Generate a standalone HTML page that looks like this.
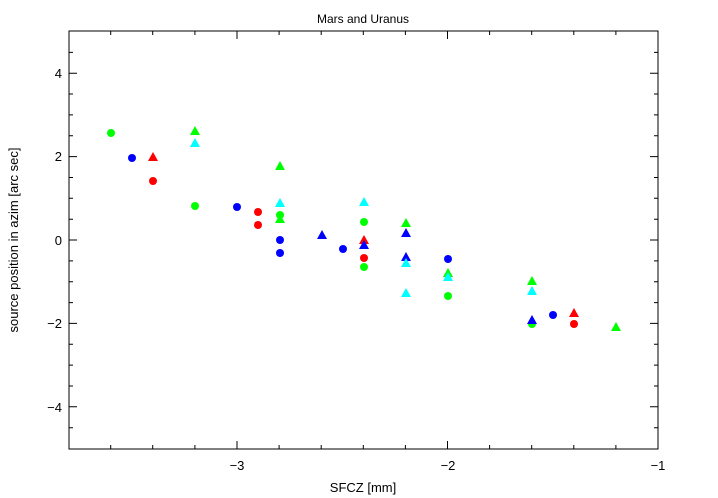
<!DOCTYPE html>
<html><head><style>body{margin:0;background:#fff}svg{display:block}</style></head><body>
<svg width="718" height="498" xmlns="http://www.w3.org/2000/svg" font-family="Liberation Sans, DejaVu Sans, sans-serif" font-size="13">
<rect width="718" height="498" fill="#fff"/>
<rect x="69" y="31" width="589" height="418" fill="none" stroke="#000" stroke-width="1"/>
<path stroke="#000" stroke-width="1" fill="none" d="
M110.7 449v-4M152.7 449v-4M194.9 449v-4M237 449v-8M279.1 449v-4M321.2 449v-4M363.3 449v-4M405.4 449v-4M447.5 449v-8M489.6 449v-4M531.7 449v-4M573.8 449v-4M615.9 449v-4
M110.7 31v4M152.7 31v4M194.9 31v4M237 31v8M279.1 31v4M321.2 31v4M363.3 31v4M405.4 31v4M447.5 31v8M489.6 31v4M531.7 31v4M573.8 31v4M615.9 31v4
M69 52.4h4M69 73.2h8M69 94h4M69 114.9h4M69 135.8h4M69 156.6h8M69 177.5h4M69 198.3h4M69 219.2h4M69 240h8M69 260.9h4M69 281.7h4M69 302.6h4M69 323.4h8M69 344.3h4M69 365.1h4M69 386h4M69 406.8h8M69 427.7h4
M658 52.4h-4M658 73.2h-8M658 94h-4M658 114.9h-4M658 135.8h-4M658 156.6h-8M658 177.5h-4M658 198.3h-4M658 219.2h-4M658 240h-8M658 260.9h-4M658 281.7h-4M658 302.6h-4M658 323.4h-8M658 344.3h-4M658 365.1h-4M658 386h-4M658 406.8h-8M658 427.7h-4"/>
<text x="363" y="23" text-anchor="middle" font-size="12">Mars and Uranus</text>
<text x="363" y="492" text-anchor="middle">SFCZ [mm]</text>
<text transform="translate(18,240) rotate(-90)" text-anchor="middle">source position in azim [arc sec]</text>
<g text-anchor="middle">
<text x="237" y="470">−3</text><text x="448" y="470">−2</text><text x="658" y="470">−1</text>
</g>
<g text-anchor="end">
<text x="62" y="78">4</text><text x="62" y="161">2</text><text x="62" y="245">0</text><text x="62" y="328">−2</text><text x="62" y="412">−4</text>
</g>
<g>
<circle cx="111" cy="133" r="4" fill="#00ff00"/>
<circle cx="132" cy="158" r="4" fill="#0000ff"/>
<circle cx="153" cy="181" r="4" fill="#ff0000"/>
<circle cx="195" cy="206" r="4" fill="#00ff00"/>
<circle cx="237" cy="207" r="4" fill="#0000ff"/>
<circle cx="258" cy="212" r="4" fill="#ff0000"/>
<circle cx="258" cy="225" r="4" fill="#ff0000"/>
<circle cx="280" cy="215" r="4" fill="#00ff00"/>
<circle cx="280" cy="240" r="4" fill="#0000ff"/>
<circle cx="280" cy="253" r="4" fill="#0000ff"/>
<circle cx="343" cy="249" r="4" fill="#0000ff"/>
<circle cx="364" cy="222" r="4" fill="#00ff00"/>
<circle cx="364" cy="258" r="4" fill="#ff0000"/>
<circle cx="364" cy="267" r="4" fill="#00ff00"/>
<circle cx="448" cy="259" r="4" fill="#0000ff"/>
<circle cx="448" cy="296" r="4" fill="#00ff00"/>
<circle cx="532" cy="324" r="4" fill="#00ff00"/>
<circle cx="553" cy="315" r="4" fill="#0000ff"/>
<circle cx="574" cy="324" r="4" fill="#ff0000"/>
<polygon points="148,161 158,161 153,152" fill="#ff0000"/>
<polygon points="190,135 200,135 195,126" fill="#00ff00"/>
<polygon points="190,147 200,147 195,138" fill="#00ffff"/>
<polygon points="275,170 285,170 280,161" fill="#00ff00"/>
<polygon points="275,207 285,207 280,198" fill="#00ffff"/>
<polygon points="275,223 285,223 280,214" fill="#00ff00"/>
<polygon points="317,239 327,239 322,230" fill="#0000ff"/>
<polygon points="359,206 369,206 364,197" fill="#00ffff"/>
<polygon points="359,244 369,244 364,235" fill="#ff0000"/>
<polygon points="359,249 369,249 364,240" fill="#0000ff"/>
<polygon points="401,227 411,227 406,218" fill="#00ff00"/>
<polygon points="401,237 411,237 406,228" fill="#0000ff"/>
<polygon points="401,261 411,261 406,252" fill="#0000ff"/>
<polygon points="401,267 411,267 406,258" fill="#00ffff"/>
<polygon points="401,297 411,297 406,288" fill="#00ffff"/>
<polygon points="443,277 453,277 448,268" fill="#00ff00"/>
<polygon points="443,281 453,281 448,272" fill="#00ffff"/>
<polygon points="527,285 537,285 532,276" fill="#00ff00"/>
<polygon points="527,295 537,295 532,286" fill="#00ffff"/>
<polygon points="527,324 537,324 532,315" fill="#0000ff"/>
<polygon points="569,317 579,317 574,308" fill="#ff0000"/>
<polygon points="611,331 621,331 616,322" fill="#00ff00"/>
</g>
</svg>
</body></html>
